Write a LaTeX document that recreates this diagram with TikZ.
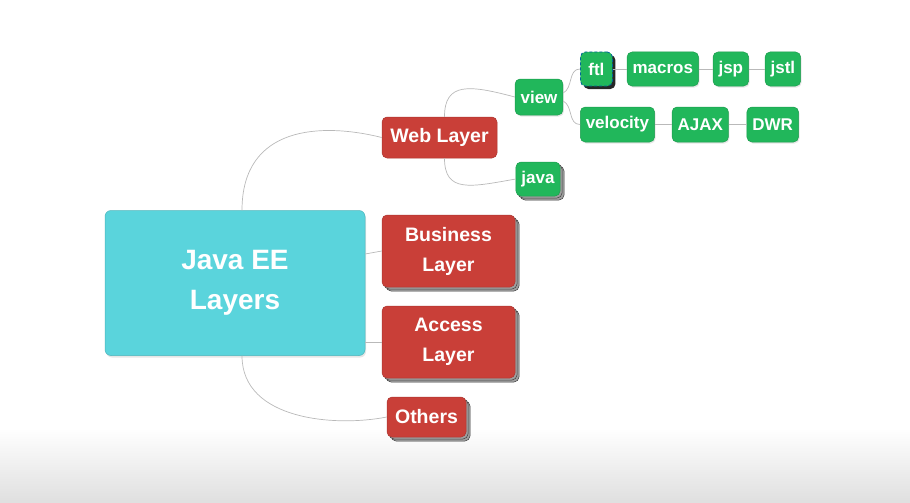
\documentclass[tikz,border=0pt]{standalone}
\usepackage{fontspec}
\setmainfont{Liberation Sans}
\usetikzlibrary{positioning,shadows}
\definecolor{rootcyan}{HTML}{5AD4DC}
\definecolor{layerred}{HTML}{C93F38}
\definecolor{leafgreen}{HTML}{21B75B}

\begin{document}
\begin{tikzpicture}[x=1pt,y=-1pt,node distance=14pt,
    root node/.style={rounded corners=6pt,fill=rootcyan,draw=rootcyan!85!black,line width=0.5pt,text=white,font=\bfseries\fontsize{28}{40}\selectfont,minimum width=260pt,minimum height=145pt,align=center,drop shadow={opacity=0.2,shadow xshift=1pt,shadow yshift=-2pt}},
    layer node/.style={rounded corners=5pt,fill=layerred,draw=layerred!85!black,line width=0.5pt,text=white,font=\bfseries\fontsize{19.5}{30}\selectfont,align=center,inner xsep=7pt,minimum height=40pt},
    leaf node/.style={rounded corners=5pt,fill=leafgreen,draw=leafgreen!85!black,line width=0.5pt,text=white,font=\bfseries\fontsize{17}{20}\selectfont,inner xsep=5.5pt,minimum width=32pt,minimum height=35pt,drop shadow={opacity=0.2,shadow xshift=1pt,shadow yshift=-1.5pt}},
    stacked/.style={double copy shadow={shadow xshift=2pt,shadow yshift=-2pt,fill=gray!75,draw=gray!50!black}},
    picked/.style={draw=teal!80!blue,densely dashed,line width=0.8pt,copy shadow={shadow xshift=3pt,shadow yshift=-3pt,fill=black!85,draw=none}},
    link/.style={draw=gray!55,line width=0.7pt}]

    \useasboundingbox (0,0) rectangle (910,503);
    \shade[top color=white,bottom color=gray!25] (0,428) rectangle (910,503);

    \node[root node] (root) at (235,283) {Java EE\\Layers};

    \node[layer node,minimum width=115pt,minimum height=41pt] (web) at (439.5,137.5) {Web Layer};
    \node[layer node,stacked,minimum width=133pt,minimum height=72pt] (business) at (448.5,251) {Business\\Layer};
    \node[layer node,stacked,minimum width=133pt,minimum height=72pt] (access) at (448.5,342) {Access\\Layer};
    \node[layer node,stacked,minimum width=79pt] (others) at (426.5,417) {Others};

    \node[leaf node,minimum height=36pt] (view) at (539,97) {view};
    \node[leaf node,stacked,minimum height=34pt] (java) at (538,179) {java};

    \node[leaf node,picked,anchor=west,minimum height=34pt] (ftl) at (580,69) {ftl};
    \node[leaf node,minimum height=34pt] (macros) [right=14pt of ftl] {macros};
    \node[leaf node,minimum height=34pt] (jsp) [right=14pt of macros] {jsp};
    \node[leaf node,minimum height=34pt] (jstl) [right=16pt of jsp] {jstl};

    \node[leaf node,anchor=west] (velocity) at (580,124.5) {velocity};
    \node[leaf node] (ajax) [right=17pt of velocity] {AJAX};
    \node[leaf node] (dwr) [right=18pt of ajax] {DWR};

    \draw[link] ([xshift=7pt]root.north) .. controls +(0,-85) and +(-60,-15) .. (web.west);
    \draw[link] ([yshift=-3pt]root.east |- business.west) -- (business.west);
    \draw[link] (root.east |- access.west) -- (access.west);
    \draw[link] ([xshift=7pt]root.south) .. controls +(0,65) and +(-50,10) .. (others.west);

    \draw[link] ([xshift=5pt]web.north) .. controls +(0,-35) and +(-45,-12) .. (view.west);
    \draw[link] ([xshift=5pt]web.south) .. controls +(0,35) and +(-45,8) .. (java.west);

    \draw[link] ([yshift=4pt]view.east) .. controls +(10,-5) and +(-12,0) .. (ftl.west);
    \draw[link] ([yshift=-4pt]view.east) .. controls +(10,5) and +(-12,0) .. (velocity.west);

    \draw[link] (ftl) -- (macros);
    \draw[link] (macros) -- (jsp);
    \draw[link] (jsp) -- (jstl);
    \draw[link] (velocity) -- (ajax);
    \draw[link] (ajax) -- (dwr);
\end{tikzpicture}
\end{document}
